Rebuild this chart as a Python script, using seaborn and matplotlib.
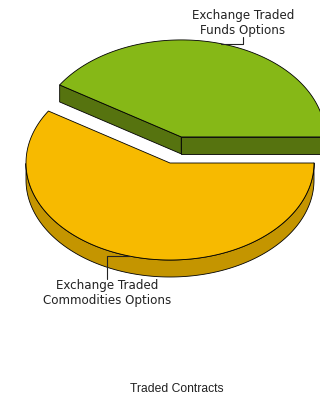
import numpy as np
import matplotlib
matplotlib.use("Agg")
import matplotlib.pyplot as plt
import seaborn as sns
from matplotlib.patches import Polygon

# slice data (share of traded contracts)
labels = ["Exchange Traded\nFunds Options", "Exchange Traded\nCommodities Options"]
values = [41, 59]
explode = [0.28, 0.0]
top_colors = ["#86B817", "#F7BA00"]
side_colors = ["#56730F", "#C49500"]
title = "Traded Contracts"

sns.set_theme(style="white")
plt.rcParams["font.family"] = ["DejaVu Sans"]

# pie geometry in pixel units
cx, cy, rx, ry, depth = 170, 163, 144, 97, 17
label_pos = [(243, 23), (107, 293)]
half_h = 14


def pt(ox, oy, a):
    return ox + rx * np.cos(a), oy - ry * np.sin(a)


fig = plt.figure(figsize=(3.2, 3.98), dpi=100)
ax = fig.add_axes([0, 0, 1, 1])
ax.set_xlim(0, 320)
ax.set_ylim(398, 0)
ax.axis("off")

total = sum(values)
start = 0.0
anchors = []
for i, v in enumerate(values):
    sweep = 360 * v / total
    a0, a1 = np.radians(start), np.radians(start + sweep)
    mid = (a0 + a1) / 2
    ox = cx + explode[i] * rx * np.cos(mid)
    oy = cy - explode[i] * ry * np.sin(mid)
    ts = np.linspace(a0, a1, 300)
    ex, ey = pt(ox, oy, ts)
    kw = dict(fc=side_colors[i], ec="black", lw=0.6, joinstyle="round")

    # radial walls that face the viewer
    for a, sgn in ((a0, -1), (a1, 1)):
        if np.sin(a + sgn * np.pi / 2) < 0:
            px, py = pt(ox, oy, a)
            ax.add_patch(Polygon([(ox, oy), (px, py), (px, py + depth), (ox, oy + depth)], **kw))

    # outer rim, front half only
    vis = np.sin(ts) < 0
    if vis.any():
        rx_, ry_ = ex[vis], ey[vis]
        rim = np.column_stack([np.r_[rx_, rx_[::-1]], np.r_[ry_, ry_[::-1] + depth]])
        ax.add_patch(Polygon(rim, **kw))

    top = np.column_stack([np.r_[ox, ex], np.r_[oy, ey]])
    ax.add_patch(Polygon(top, fc=top_colors[i], ec="black", lw=0.6, joinstyle="round"))
    anchors.append(pt(ox, oy, mid))
    start += sweep

# labels with elbow leader lines
for (axp, ayp), (lx, ly), lab in zip(anchors, label_pos, labels):
    ty = ly + half_h if ly < ayp else ly - half_h
    ax.plot([axp, lx, lx], [ayp, ayp, ty], color="#222222", lw=0.8)
    ax.text(lx, ly, lab, ha="center", va="center", fontsize=8.6, color="#222222",
            linespacing=1.12)

ax.text(177, 389, title, ha="center", va="center", fontsize=8.7, color="#222222",
        family=["Liberation Sans", "DejaVu Sans"])

fig.savefig("out.png", dpi=100)
